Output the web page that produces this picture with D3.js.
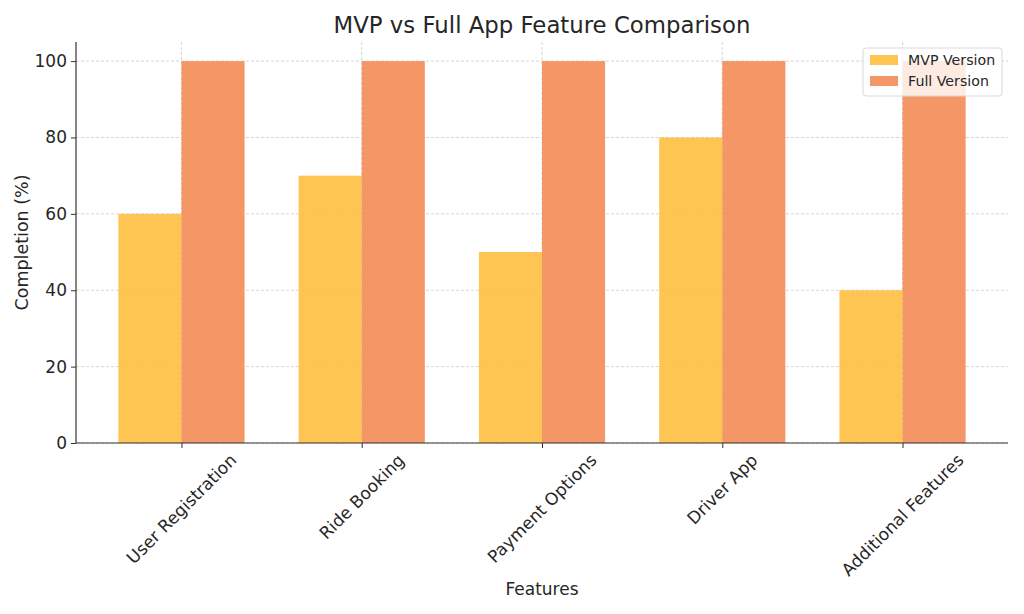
<!DOCTYPE html>
<html lang="en">
<head>
  <meta charset="UTF-8">
  <title>MVP vs Full App Feature Comparison</title>
  <script src="https://d3js.org/d3.v7.min.js"></script>
  <style>
    body { margin: 0; background: white; }
    text { font-family: "DejaVu Sans", sans-serif; fill: #262626; }
  </style>
</head>
<body>
  <script>
    const features = ["User Registration", "Ride Booking", "Payment Options", "Driver App", "Additional Features"];
    const mvpValues = [60, 70, 50, 80, 40];
    const fullValues = [100, 100, 100, 100, 100];
    const seriesNames = ["MVP Version", "Full Version"];
    const seriesColors = ["#FFBF3F", "#F38B55"];
    const yTicks = [0, 20, 40, 60, 80, 100];

    const width = 1024, height = 614;
    const margin = { top: 42, right: 16, bottom: 171, left: 76 };
    const innerW = width - margin.left - margin.right;
    const innerH = height - margin.top - margin.bottom;

    const svg = d3.select("body").append("svg")
      .attr("width", width)
      .attr("height", height);

    const g = svg.append("g")
      .attr("transform", `translate(${margin.left},${margin.top})`);

    // matplotlib-like linear x: bars from -0.35..4.35 with 5% padding
    const barW = 0.35;
    const lo = -barW, hi = features.length - 1 + barW;
    const pad = (hi - lo) * 0.05;
    const x = d3.scaleLinear().domain([lo - pad, hi + pad]).range([0, innerW]);
    const y = d3.scaleLinear().domain([0, 105]).range([innerH, 0]);

    // grid
    g.append("g").selectAll("line.hg")
      .data(yTicks)
      .enter().append("line")
      .attr("x1", 0).attr("x2", innerW)
      .attr("y1", d => y(d)).attr("y2", d => y(d))
      .attr("stroke", "#cccccc")
      .attr("stroke-width", 0.8)
      .attr("stroke-dasharray", "3,2");

    g.append("g").selectAll("line.vg")
      .data(features)
      .enter().append("line")
      .attr("x1", (d, i) => x(i)).attr("x2", (d, i) => x(i))
      .attr("y1", 0).attr("y2", innerH)
      .attr("stroke", "#cccccc")
      .attr("stroke-width", 0.8)
      .attr("stroke-dasharray", "3,2");

    // bars
    const series = [mvpValues, fullValues];
    series.forEach((vals, s) => {
      g.append("g").selectAll("rect")
        .data(vals)
        .enter().append("rect")
        .attr("x", (d, i) => x(i - barW + s * barW))
        .attr("width", x(barW) - x(0))
        .attr("y", d => y(d))
        .attr("height", d => y(0) - y(d))
        .attr("fill", seriesColors[s])
        .attr("fill-opacity", 0.9);
    });

    // y axis
    const yAxis = g.append("g")
      .call(d3.axisLeft(y).tickValues(yTicks).tickSize(5).tickPadding(4));
    yAxis.select(".domain").attr("stroke", "#333").attr("stroke-width", 1.2)
      .attr("d", `M0,0V${innerH}`);
    yAxis.selectAll(".tick line").attr("stroke", "#333");
    yAxis.selectAll(".tick text").style("font-size", "17px").attr("fill", "#262626");

    // x axis
    const xAxis = g.append("g")
      .attr("transform", `translate(0,${innerH})`)
      .call(d3.axisBottom(x).tickValues(d3.range(features.length)).tickSize(5).tickFormat(""));
    xAxis.select(".domain").attr("stroke", "#333").attr("stroke-width", 1.2)
      .attr("d", `M0,0H${innerW}`);
    xAxis.selectAll(".tick line").attr("stroke", "#333");

    // rotated labels centered under ticks (bbox center at tick)
    const fs = 17;
    g.append("g").selectAll("text.xl")
      .data(features)
      .enter().append("text")
      .style("font-size", fs + "px")
      .attr("text-anchor", "middle")
      .attr("dominant-baseline", "central")
      .text(d => d)
      .each(function (d, i) {
        const L = this.getComputedTextLength();
        const h = fs * 1.0;
        const half = (L + h) * Math.SQRT1_2 / 2;
        const cx = x(i), cy = innerH + 8 + half;
        d3.select(this).attr("transform", `translate(${cx},${cy}) rotate(-45)`);
      });

    // axis labels & title
    svg.append("text")
      .attr("x", margin.left + innerW / 2).attr("y", 595)
      .attr("text-anchor", "middle")
      .style("font-size", "17px")
      .text("Features");

    svg.append("text")
      .attr("transform", `translate(28,${margin.top + innerH / 2}) rotate(-90)`)
      .attr("text-anchor", "middle")
      .style("font-size", "17.5px")
      .text("Completion (%)");

    svg.append("text")
      .attr("x", margin.left + innerW / 2).attr("y", 33)
      .attr("text-anchor", "middle")
      .style("font-size", "22.8px")
      .text("MVP vs Full App Feature Comparison");

    // legend
    const leg = svg.append("g").attr("transform", "translate(863,48)");
    leg.append("rect")
      .attr("width", 139).attr("height", 48)
      .attr("rx", 3)
      .attr("fill", "white").attr("fill-opacity", 0.8)
      .attr("stroke", "#d9d9d9");
    seriesNames.forEach((name, i) => {
      leg.append("rect")
        .attr("x", 7).attr("y", 7 + i * 21)
        .attr("width", 28).attr("height", 10)
        .attr("fill", seriesColors[i]).attr("fill-opacity", 0.9);
      leg.append("text")
        .attr("x", 45).attr("y", 17 + i * 21)
        .style("font-size", "14.2px")
        .text(name);
    });
  </script>
</body>
</html>
